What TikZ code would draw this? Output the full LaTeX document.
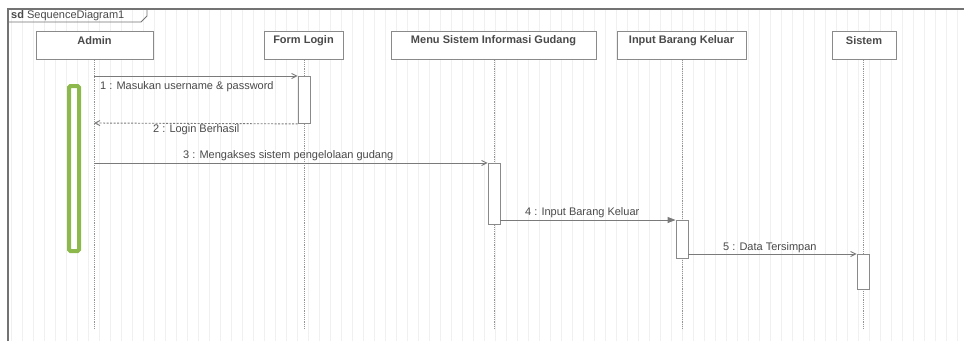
\documentclass[tikz,border=0pt]{standalone}
\usepackage{fontspec}
\setmainfont{Liberation Sans}
\usetikzlibrary{arrows.meta}
\definecolor{lineGray}{HTML}{7A7A7A}
\definecolor{boxGray}{HTML}{8A8A8A}
\definecolor{txtGray}{HTML}{4A4A4A}
\definecolor{noteGreen}{HTML}{8DB94C}
\tikzset{
  lbl/.style={font=\fontsize{11}{12}\selectfont, text=txtGray, inner sep=0pt},
  headlbl/.style={font=\fontsize{11}{12}\selectfont\bfseries, text=txtGray, inner sep=0pt},
  headbox/.style={draw=boxGray, line width=1pt, fill=white, inner sep=0pt},
  lifeline/.style={draw=lineGray!80, line width=0.7pt, dash pattern=on 1.2pt off 1pt},
  actbox/.style={draw=boxGray, line width=0.9pt, fill=white, inner sep=0pt, minimum width=12pt, anchor=north},
  msg/.style={draw=lineGray, line width=0.9pt, -{Straight Barb[length=5pt,width=5pt]}},
  syncmsg/.style={draw=lineGray, line width=0.9pt, -{Triangle[length=8pt,width=6pt]}},
  retmsg/.style={draw=lineGray, line width=0.9pt, dash pattern=on 2pt off 1.5pt, -{Straight Barb[length=5pt,width=5pt]}}
}
\begin{document}
\begin{tikzpicture}[x=1pt,y=-1pt]
\useasboundingbox (0,0) rectangle (964,341);
\fill[white] (0,0) rectangle (964,341);
% faint drawing grid
\draw[black!6, line width=0.5pt, step=11] (8,9) grid (964,341);
% diagram frame and its name tab
\draw[black!55, line width=1.4pt] (8,341) -- (8,9) -- (964,9);
\draw[black!55, line width=0.9pt] (8,22) -- (141,22) -- (147,16) -- (147,9);
\node[lbl, anchor=west] (frameName) at (11,15.5) {\textbf{sd} SequenceDiagram1};

% lifeline heads
\node[headbox, minimum width=117pt, minimum height=28pt] (admin) at (94.5,45) {};
\node[headbox, minimum width=79pt, minimum height=28pt] (form) at (303.5,45) {};
\node[headbox, minimum width=205pt, minimum height=28pt] (menu) at (493.5,45) {};
\node[headbox, minimum width=129pt, minimum height=28pt] (input) at (681.5,45) {};
\node[headbox, minimum width=64pt, minimum height=28pt] (sistem) at (864,45) {};
\node[headlbl] (adminT) at (94.5,41) {Admin};
\node[headlbl] (formT) at (303.5,41) {Form Login};
\node[headlbl] (menuT) at (493.5,41) {Menu Sistem Informasi Gudang};
\node[headlbl] (inputT) at (681.5,41) {Input Barang Keluar};
\node[headlbl] (sistemT) at (864,41) {Sistem};

% lifelines
\coordinate (adminEnd) at (94,330);
\coordinate (formEnd) at (304,330);
\coordinate (menuEnd) at (494,330);
\coordinate (inputEnd) at (682,330);
\coordinate (sistemEnd) at (863,330);
\draw[lifeline] (admin.south -| adminEnd) -- (adminEnd);
\draw[lifeline] (form.south -| formEnd) -- (formEnd);
\draw[lifeline] (menu.south -| menuEnd) -- (menuEnd);
\draw[lifeline] (input.south -| inputEnd) -- (inputEnd);
\draw[lifeline] (sistem.south -| sistemEnd) -- (sistemEnd);

% activation bars
\node[actbox, minimum height=47pt] (actForm) at (304,76) {};
\node[actbox, minimum height=61pt] (actMenu) at (494,163) {};
\node[actbox, minimum height=38pt] (actInput) at (682,220) {};
\node[actbox, minimum height=35pt] (actSistem) at (863,254) {};

% note bar
\draw[noteGreen, line width=4pt, rounded corners=1.5pt] (69,86) rectangle (79,251);
\coordinate (noteBar) at (74,168);

% messages
\coordinate (m1) at (94,76);
\coordinate (m2) at (94,123);
\coordinate (m3) at (94,163);
\draw[msg] (m1) -- (actForm.north west);
\draw[retmsg] (actForm.south west) -- (m2);
\draw[msg] (m3) -- (actMenu.north west);
\draw[syncmsg] (actMenu.east |- actInput.north) -- (actInput.north west);
\draw[msg] (actInput.east |- actSistem.north) -- (actSistem.north west);

% message labels
\node[lbl, anchor=west] (l1) at (100,87) {1 : Masukan username \& password};
\node[lbl, anchor=west] (l2) at (153,130) {2 : Login Berhasil};
\node[lbl, anchor=west] (l3) at (183,156) {3 : Mengakses sistem pengelolaan gudang};
\node[lbl, anchor=west] (l4) at (525,213) {4 : Input Barang Keluar};
\node[lbl, anchor=west] (l5) at (723,248) {5 : Data Tersimpan};
\end{tikzpicture}
\end{document}
